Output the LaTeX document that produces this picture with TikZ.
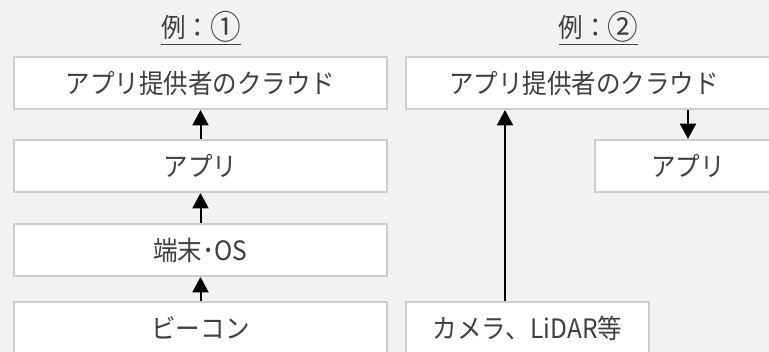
\documentclass[tikz,border=0pt]{standalone}
\usepackage{fontspec}
\setmainfont[FakeStretch=0.92]{Noto Sans CJK JP}
\usetikzlibrary{arrows.meta}
\definecolor{bg}{HTML}{F2F2F2}
\definecolor{bd}{HTML}{CDCDCD}
\definecolor{tx}{HTML}{404040}
\begin{document}
\begin{tikzpicture}[x=0.75pt,y=-0.75pt,
  box/.style={draw=bd,fill=white,line width=1.5pt,minimum height=39pt,inner sep=0pt,
    text=tx,font=\fontsize{20}{24}\selectfont},
  ttl/.style={text=tx,font=\fontsize{20}{24}\selectfont,inner sep=0pt},
  lbl/.style={text=tx,font=\fontsize{20}{24}\selectfont,inner sep=0pt},
  arr/.style={-{Triangle[length=11.5pt,width=12pt]},line width=1.5pt,black}]
\useasboundingbox (0,0) rectangle (769,352);
\clip (0,0) rectangle (769,352);
\fill[bg] (0,0) rectangle (769,352);
% titles
\node[ttl] (T1) at (201,28) {\underline{例：\raisebox{-0.08em}{\scalebox{1.25}{①}}}};
\node[ttl] (T2) at (598.5,28) {\underline{例：\raisebox{-0.08em}{\scalebox{1.25}{②}}}};
% left column
\node[box,minimum width=279.75pt] (L1) at (200.5,83) {アプリ提供者のクラウド};
\node[box,minimum width=279.75pt] (L2) at (200.5,166) {アプリ};
\node[box,minimum width=279.75pt] (L3) at (200.5,250) {端末･OS};
\node[box,minimum width=279.75pt] (L4) at (200.5,328) {ビーコン};
% right column
\node[box,minimum width=279.75pt,label={[lbl,xshift=-6.4pt]center:アプリ提供者のクラウド}] (R1) at (592.5,83) {};
\node[box,minimum width=139.5pt] (R2) at (688,166) {アプリ};
\node[box,minimum width=182.25pt] (R3) at (527.5,328) {カメラ、LiDAR等};
\coordinate (cx) at (505,200);
% connectors
\draw[arr] (L2.north) -- (L1.south);
\draw[arr] (L3.north) -- (L2.south);
\draw[arr] (L4.north) -- (L3.south);
\draw[arr] (R3.north -| cx) -- (R1.south -| cx);
\draw[arr] (R1.south -| R2.north) -- (R2.north);
\end{tikzpicture}
\end{document}
